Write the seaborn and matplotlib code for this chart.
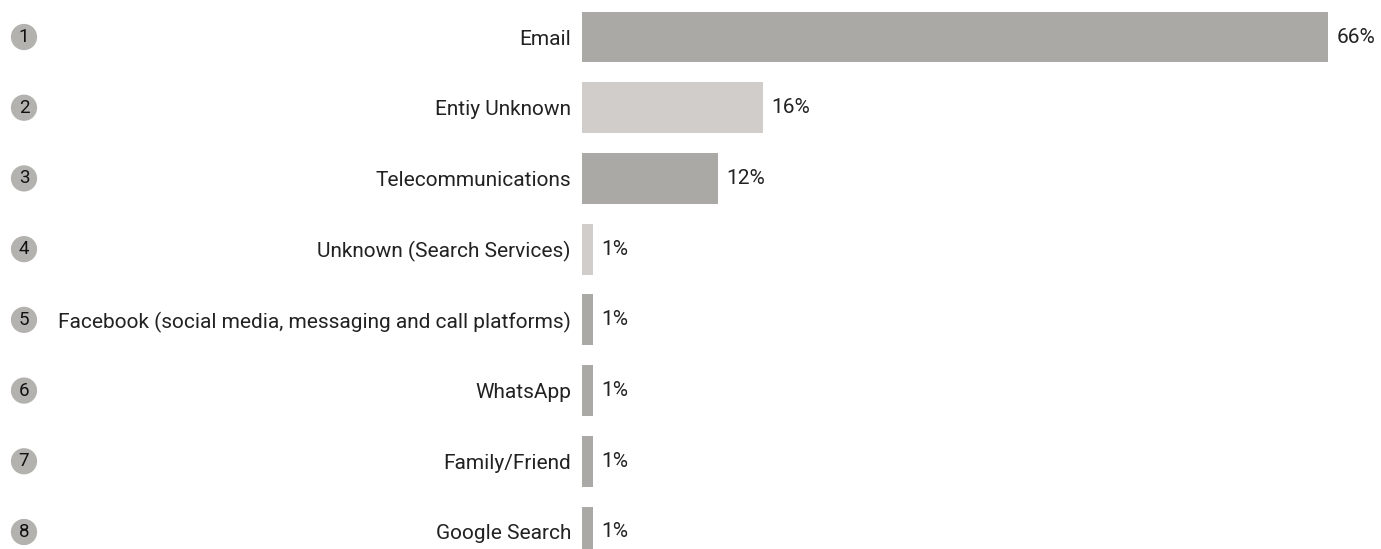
import matplotlib
matplotlib.use("Agg")
import matplotlib.pyplot as plt
import matplotlib.transforms as mtransforms
import seaborn as sns
import pandas as pd

categories = [
    "Email",
    "Entiy Unknown",
    "Telecommunications",
    "Unknown (Search Services)",
    "Facebook (social media, messaging and call platforms)",
    "WhatsApp",
    "Family/Friend",
    "Google Search",
]
shares = [66, 16, 12, 1, 1, 1, 1, 1]
value_labels = ["66%", "16%", "12%", "1%", "1%", "1%", "1%", "1%"]
ranks = ["1", "2", "3", "4", "5", "6", "7", "8"]

DARK = "#aaa9a5"
LIGHT = "#d0cdca"
bar_colors = [DARK, LIGHT, DARK, LIGHT, DARK, DARK, DARK, DARK]

sns.set_theme(style="white")
plt.rcParams["font.family"] = ["Roboto", "DejaVu Sans"]

W, H, DPI = 1381, 549, 100
fig = plt.figure(figsize=(W / DPI, H / DPI), dpi=DPI)
ax = fig.add_axes([582 / W, 0, 799 / W, 1])

df = pd.DataFrame({"category": categories, "share": shares})
sns.barplot(
    data=df, y="category", x="share", hue="category",
    palette=dict(zip(categories, bar_colors)), order=categories,
    orient="h", width=0.72, legend=False, ax=ax, saturation=1,
    linewidth=0,
)

ax.set_xlim(0, 66 * 799 / 746)
ax.set_ylim(7 + 17 / 70.71, -37 / 70.71)
ax.set_xlabel("")
ax.set_ylabel("")
ax.set_xticks([])
ax.set_yticks(range(len(categories)))
ax.set_yticklabels(categories, fontsize=15, color="#222222")
ax.tick_params(axis="y", length=0, pad=8)
for s in ax.spines.values():
    s.set_visible(False)

# value labels at the end of each bar
for i, (v, lab) in enumerate(zip(shares, value_labels)):
    ax.annotate(lab, xy=(v, i), xytext=(6, 0), textcoords="offset points",
                va="center", ha="left", fontsize=15, color="#222222")

# numbered markers at the far left
trans = mtransforms.blended_transform_factory(fig.transFigure, ax.transData)
for i, r in enumerate(ranks):
    ax.text(24 / W, i, r, transform=trans, ha="center", va="center",
            fontsize=13.5, color="#111111", clip_on=False,
            bbox=dict(boxstyle="circle,pad=0.22", fc="#b3b2ae", ec="none"))

fig.savefig("out.png", dpi=DPI)
